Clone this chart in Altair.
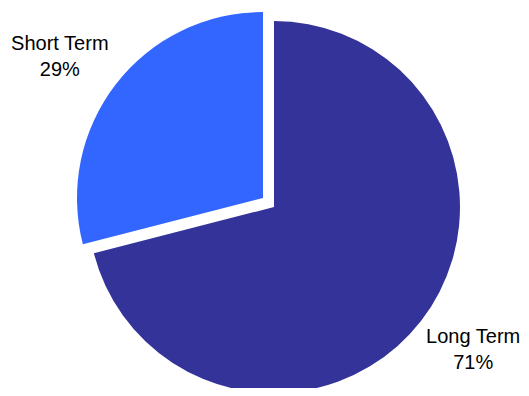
import altair as alt
import pandas as pd

categories = ["Long Term", "Short Term"]
values = [71, 29]
order = [0, 1]
colors = ["#333399", "#3366FF"]

df = pd.DataFrame({"category": categories, "value": values, "order": order})

FONT = "Liberation Sans"

base = (
    alt.Chart(df)
    .transform_stack(stack="value", as_=["v0", "v1"], groupby=[], sort=[alt.SortField("order")])
    .transform_calculate(
        mid="(datum.v0 + datum.v1) / 2",
        label="datum.category + '\\n' + datum.value + '%'",
    )
)

theta_scale = alt.Scale(domain=[0, 100])
color_enc = alt.Color("category:N", scale=alt.Scale(domain=categories, range=colors), legend=None)

centers = {"Long Term": (266, 199), "Short Term": (255, 190)}
label_dx = {"Long Term": -4, "Short Term": 0}

layers = []
for cat in categories:
    cx, cy = centers[cat]
    sub = base.transform_filter(alt.datum.category == cat)
    arc = sub.mark_arc(outerRadius=186, innerRadius=0).encode(
        theta=alt.Theta("v0:Q", scale=theta_scale, stack=None),
        theta2="v1:Q",
        color=color_enc,
        x=alt.value(cx),
        y=alt.value(cy),
    )
    txt = sub.mark_text(
        radius=248,
        thetaOffset=-0.049,
        font=FONT,
        fontSize=20,
        lineBreak="\n",
        lineHeight=26,
        align="center",
        baseline="middle",
        dx=label_dx[cat],
        dy=-12,
        color="#000000",
    ).encode(
        theta=alt.Theta("mid:Q", scale=theta_scale, stack=None),
        text="label:N",
        x=alt.value(cx),
        y=alt.value(cy),
    )
    layers += [arc, txt]

chart = (
    alt.layer(*layers)
    .properties(width=513, height=380, padding=0, autosize=alt.AutoSizeParams(type="none"))
    .configure_view(stroke=None)
)

chart.save("out.html", embed_options={"renderer": "svg", "actions": False})
